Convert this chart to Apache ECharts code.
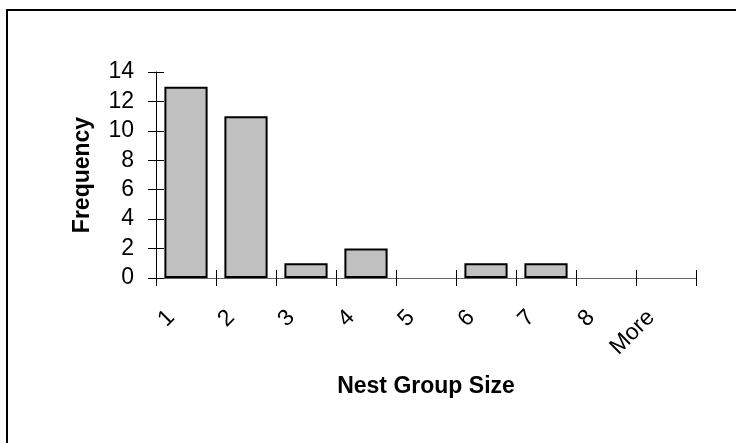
<!DOCTYPE html>
<html>
<head>
<meta charset="utf-8">
<style>
html,body{margin:0;padding:0;background:#fff;}
#chart{width:736px;height:443px;}
</style>
<script src="https://cdn.jsdelivr.net/npm/echarts@6/dist/echarts.min.js"></script>
</head>
<body>
<div id="chart"></div>
<script>
const categories = ['1', '2', '3', '4', '5', '6', '7', '8', 'More'];
const frequency = [13, 11, 1, 2, 0, 1, 1, 0, 0];
const yTicks = { min: 0, max: 14, interval: 2 };
const xTitle = 'Nest Group Size';
const yTitle = 'Frequency';

const FONT = '"Liberation Sans", Arial, sans-serif';
const chart = echarts.init(document.getElementById('chart'), null, { renderer: 'canvas' });

const gridMain = { left: 156, right: 40, top: 72, bottom: 165 };
const gridLabel = { left: 141, right: 55, top: 72, bottom: 165 };

chart.setOption({
  animation: false,
  backgroundColor: '#fff',
  graphic: [{
    type: 'rect',
    shape: { x: 7, y: 10, width: 900, height: 600 },
    style: { fill: 'none', stroke: '#000', lineWidth: 2 },
    z: 100
  }],
  grid: [
    Object.assign({ containLabel: false }, gridMain),
    Object.assign({ containLabel: false }, gridLabel)
  ],
  xAxis: [
    {
      type: 'category', data: categories, gridIndex: 0,
      boundaryGap: true,
      name: xTitle, nameLocation: 'middle', nameGap: 97,
      nameTextStyle: { fontFamily: FONT, fontSize: 23, fontWeight: 'bold', color: '#000' },
      axisLine: { lineStyle: { color: '#666', width: 1 } },
      axisTick: { show: true, inside: false, length: 8, lineStyle: { color: '#000', width: 1 } },
      axisLabel: { show: false },
      splitLine: { show: false }
    },
    {
      type: 'category', data: categories, gridIndex: 0, position: 'bottom',
      boundaryGap: true,
      axisLine: { show: false },
      axisTick: { show: true, inside: true, length: 8, lineStyle: { color: '#000', width: 1 } },
      axisLabel: { show: false },
      splitLine: { show: false }
    },
    {
      type: 'category', data: categories, gridIndex: 1, position: 'bottom',
      boundaryGap: true,
      axisLine: { show: false },
      axisTick: { show: false },
      axisLabel: {
        show: true, rotate: 45, margin: 36, interval: 0,
        fontFamily: FONT, fontSize: 23, color: '#000'
      },
      splitLine: { show: false }
    }
  ],
  yAxis: [
    {
      type: 'value', gridIndex: 0, min: yTicks.min, max: yTicks.max, interval: yTicks.interval,
      name: yTitle, nameLocation: 'middle', nameGap: 62, nameRotate: 90,
      nameTextStyle: { fontFamily: FONT, fontSize: 23, fontWeight: 'bold', color: '#000' },
      axisLine: { show: true, lineStyle: { color: '#000', width: 1 } },
      axisTick: { show: true, inside: false, length: 8, lineStyle: { color: '#000', width: 1 } },
      axisLabel: { show: true, margin: 22, fontFamily: FONT, fontSize: 23, color: '#000' },
      splitLine: { show: false }
    },
    {
      type: 'value', gridIndex: 0, position: 'left', min: yTicks.min, max: yTicks.max, interval: yTicks.interval,
      axisLine: { show: false },
      axisTick: { show: true, inside: true, length: 8, lineStyle: { color: '#000', width: 1 } },
      axisLabel: { show: false },
      splitLine: { show: false }
    },
    {
      type: 'value', gridIndex: 1, min: yTicks.min, max: yTicks.max, show: false
    }
  ],
  series: [{
    type: 'bar',
    xAxisIndex: 0, yAxisIndex: 0,
    data: frequency.map(v => (v === 0 ? '-' : v)),
    barCategoryGap: '28%',
    itemStyle: { color: '#c0c0c0', borderColor: '#000', borderWidth: 2 },
    emphasis: { disabled: true },
    silent: true
  }]
});
</script>
</body>
</html>
